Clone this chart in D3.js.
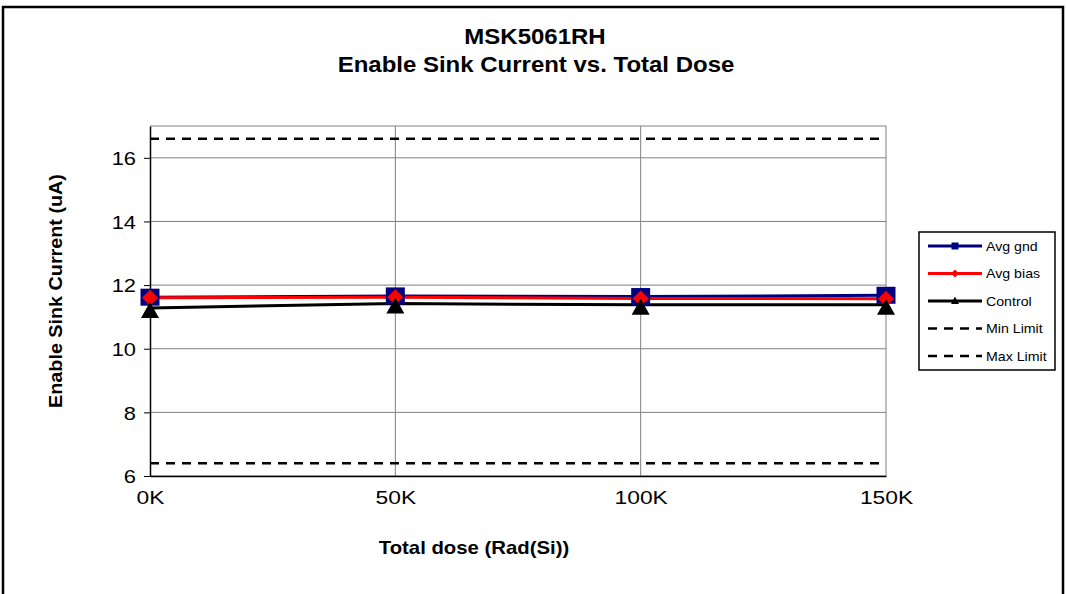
<!DOCTYPE html>
<html>
<head>
<meta charset="utf-8">
<script src="https://cdn.jsdelivr.net/npm/d3@7"></script>
<style>
  body { margin: 0; background: #fff; }
  text { font-family: "Liberation Sans", Arial, sans-serif; }
</style>
</head>
<body>
<div id="chart"></div>
<script>
// data
var doses = [0, 50, 100, 150];
var doseLabels = ["0K", "50K", "100K", "150K"];
var avgGnd = [11.62, 11.66, 11.64, 11.68];
var avgBias = [11.6, 11.62, 11.58, 11.57];
var control = [11.28, 11.42, 11.38, 11.38];
var minLimit = [6.4, 6.4, 6.4, 6.4];
var maxLimit = [16.6, 16.6, 16.6, 16.6];
var yTicks = [6, 8, 10, 12, 14, 16];

var W = 1066, H = 594;
var margin = { top: 126, right: 180, bottom: 118, left: 150 },
    w = 886 - margin.left,
    h = 476 - margin.top;

// the original text looks a bit wider than Liberation Sans, so stretch it
function stretch(sel, k) {
    sel.each(function () {
        var len = this.getComputedTextLength();
        d3.select(this)
            .attr('textLength', len * k)
            .attr('lengthAdjust', 'spacingAndGlyphs');
    });
}

var svg = d3.select('#chart')
    .append('svg')
    .attr('width', W)
    .attr('height', H);

// outer frame
svg.append('rect')
    .attr('x', 3).attr('y', 7)
    .attr('width', 1060).attr('height', 600)
    .attr('fill', 'none')
    .attr('stroke', '#000')
    .attr('stroke-width', 2.5);

var t1 = svg.append('text')
    .attr('x', 535).attr('y', 44)
    .attr('text-anchor', 'middle')
    .style('font-size', '22px').style('font-weight', 'bold')
    .text('MSK5061RH');
var t2 = svg.append('text')
    .attr('x', 536).attr('y', 72)
    .attr('text-anchor', 'middle')
    .style('font-size', '22px').style('font-weight', 'bold')
    .text('Enable Sink Current vs. Total Dose');
stretch(t1, 1.09);
stretch(t2, 1.09);

var g = svg.append('g')
    .attr('transform', `translate(${margin.left},${margin.top})`);

var x = d3.scaleLinear().domain([0, 150]).range([0, w]);
var y = d3.scaleLinear().domain([6, 17]).range([h, 0]);

// grid
g.append('g').selectAll('line.hg')
    .data(yTicks.concat([17]))
    .enter().append('line')
    .attr('x1', 0).attr('x2', w)
    .attr('y1', d => y(d)).attr('y2', d => y(d))
    .attr('stroke', '#808080').attr('stroke-width', 1);
g.append('g').selectAll('line.vg')
    .data(doses.slice(1))
    .enter().append('line')
    .attr('x1', d => x(d)).attr('x2', d => x(d))
    .attr('y1', 0).attr('y2', h)
    .attr('stroke', '#808080').attr('stroke-width', 1);

// axes
var yAxis = d3.axisLeft(y).tickValues(yTicks).tickSize(6).tickSizeOuter(0);
var xAxis = d3.axisBottom(x).tickValues(doses).tickFormat((d, i) => doseLabels[i]).tickSize(0).tickSizeOuter(0);

var ya = g.append('g').call(yAxis);
ya.select('.domain').attr('stroke', '#000').attr('stroke-width', 1.5);
ya.selectAll('.tick line').attr('stroke', '#000');
ya.selectAll('.tick text').style('font-size', '19px').attr('x', -14).attr('dy', '0.35em')
    .attr('font-family', null);
stretch(ya.selectAll('.tick text'), 1.15);

var xa = g.append('g').attr('transform', `translate(0,${h})`).call(xAxis);
xa.select('.domain').attr('stroke', '#000').attr('stroke-width', 1.5);
xa.selectAll('.tick text').style('font-size', '19px').attr('y', 15).attr('dy', '0.71em');
stretch(xa.selectAll('.tick text'), 1.2);
svg.selectAll('.tick text').attr('font-family', null);

var yl = svg.append('text')
    .attr('transform', 'translate(62,291) rotate(-90)')
    .attr('text-anchor', 'middle')
    .style('font-size', '19px').style('font-weight', 'bold')
    .text('Enable Sink Current (uA)');
var xl = svg.append('text')
    .attr('x', 474).attr('y', 554)
    .attr('text-anchor', 'middle')
    .style('font-size', '19px').style('font-weight', 'bold')
    .text('Total dose (Rad(Si))');
stretch(yl, 1.04);
stretch(xl, 1.07);

var line = d3.line().x((d, i) => x(doses[i])).y(d => y(d));

var series = [
    { name: 'Avg gnd', values: avgGnd, color: '#000080', width: 3, marker: 'square' },
    { name: 'Avg bias', values: avgBias, color: '#ff0000', width: 3, marker: 'diamond' },
    { name: 'Control', values: control, color: '#000000', width: 3, marker: 'triangle' },
    { name: 'Min Limit', values: minLimit, color: '#000000', width: 2.5, dash: '9,7' },
    { name: 'Max Limit', values: maxLimit, color: '#000000', width: 2.5, dash: '9,7' }
];

function markerPath(type) {
    if (type === 'square') return 'M-9.5,-8.5h19v17h-19Z';
    if (type === 'diamond') return 'M0,-8L8,0L0,8L-8,0Z';
    if (type === 'triangle') return 'M0,-9L9,7L-9,7Z';
}

// limits first, then control, then Avg gnd under Avg bias
[series[3], series[4], series[2], series[0], series[1]].forEach(function (s) {
    g.append('path')
        .datum(s.values)
        .attr('d', line)
        .attr('fill', 'none')
        .attr('stroke', s.color)
        .attr('stroke-width', s.width)
        .attr('stroke-dasharray', s.dash || null);
});

[series[0], series[1], series[2]].forEach(function (s) {
    g.append('g').selectAll('path')
        .data(s.values)
        .enter().append('path')
        .attr('transform', (d, i) => `translate(${x(doses[i])},${y(d) + (s.marker === 'triangle' ? 3 : 0)})`)
        .attr('d', markerPath(s.marker))
        .attr('fill', s.color);
});

// legend
var lg = svg.append('g').attr('transform', 'translate(919,232)');
lg.append('rect')
    .attr('width', 136).attr('height', 138)
    .attr('fill', '#fff').attr('stroke', '#000').attr('stroke-width', 1.5);
series.forEach(function (s, i) {
    var yy = 14 + i * 27.5;
    lg.append('line')
        .attr('x1', 9).attr('x2', 63)
        .attr('y1', yy).attr('y2', yy)
        .attr('stroke', s.color)
        .attr('stroke-width', s.width)
        .attr('stroke-dasharray', s.dash || null);
    if (s.marker) {
        var mk = s.marker === 'square' ? 'M-3.5,-3.5h7v7h-7Z'
            : s.marker === 'diamond' ? 'M0,-4L4,0L0,4L-4,0Z' : 'M0,-4.5L4,3L-4,3Z';
        lg.append('path')
            .attr('transform', `translate(36,${yy})`)
            .attr('d', mk).attr('fill', s.color);
    }
    var tx = lg.append('text')
        .attr('x', 67).attr('y', yy).attr('dy', '0.35em')
        .style('font-size', '13.5px')
        .text(s.name);
    stretch(tx, 1.05);
});
</script>
</body>
</html>
